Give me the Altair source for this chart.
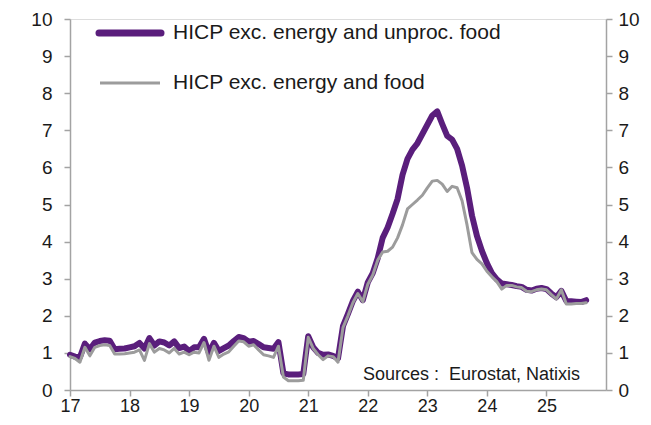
import altair as alt
import pandas as pd

years = [2017, 2018, 2019, 2020, 2021, 2022, 2023, 2024, 2025]

# HICP excluding energy and unprocessed food (% y/y), monthly
hicp_ex_energy_unproc = {
    2017: [0.95, 0.90, 0.88, 1.25, 1.10, 1.28, 1.32, 1.34, 1.33, 1.10, 1.11, 1.12],
    2018: [1.15, 1.18, 1.27, 1.12, 1.40, 1.20, 1.31, 1.28, 1.20, 1.31, 1.13, 1.17],
    2019: [1.05, 1.15, 1.15, 1.38, 1.00, 1.27, 1.05, 1.13, 1.20, 1.32, 1.43, 1.40],
    2020: [1.30, 1.32, 1.24, 1.15, 1.13, 1.11, 1.29, 0.45, 0.42, 0.42, 0.42, 0.43],
    2021: [1.45, 1.15, 1.00, 0.95, 0.96, 0.92, 0.85, 1.72, 2.05, 2.40, 2.65, 2.42],
    2022: [2.90, 3.15, 3.55, 4.10, 4.38, 4.75, 5.15, 5.80, 6.23, 6.48, 6.65, 6.90],
    2023: [7.15, 7.40, 7.51, 7.17, 6.85, 6.75, 6.50, 6.05, 5.45, 4.70, 4.15, 3.75],
    2024: [3.42, 3.15, 2.98, 2.87, 2.85, 2.83, 2.80, 2.78, 2.70, 2.68, 2.73, 2.75],
    2025: [2.72, 2.60, 2.50, 2.67, 2.40, 2.39, 2.38, 2.37, 2.42],
}

# HICP excluding energy and food (% y/y), monthly
hicp_ex_energy_food = {
    2017: [0.90, 0.85, 0.75, 1.15, 0.92, 1.15, 1.20, 1.22, 1.20, 0.97, 0.97, 0.98],
    2018: [1.00, 1.02, 1.08, 0.80, 1.25, 1.02, 1.12, 1.08, 1.00, 1.12, 0.97, 1.02],
    2019: [0.95, 1.02, 1.00, 1.28, 0.80, 1.18, 0.88, 0.97, 1.03, 1.18, 1.32, 1.30],
    2020: [1.18, 1.22, 1.08, 0.95, 0.92, 0.88, 1.18, 0.35, 0.25, 0.25, 0.25, 0.26],
    2021: [1.42, 1.12, 0.95, 0.82, 0.92, 0.90, 0.75, 1.68, 2.00, 2.35, 2.60, 2.38],
    2022: [2.85, 3.10, 3.50, 3.72, 3.74, 3.85, 4.10, 4.45, 4.88, 5.00, 5.12, 5.25],
    2023: [5.45, 5.63, 5.65, 5.55, 5.35, 5.49, 5.45, 5.10, 4.45, 3.70, 3.52, 3.40],
    2024: [3.20, 3.05, 2.92, 2.72, 2.82, 2.82, 2.78, 2.76, 2.66, 2.65, 2.70, 2.72],
    2025: [2.70, 2.57, 2.45, 2.70, 2.32, 2.32, 2.33, 2.33, 2.35],
}

name_a = "HICP exc. energy and unproc. food"
name_b = "HICP exc. energy and food"
source_note = "Sources :\u00a0 Eurostat, Natixis"
x_ticks = [17, 18, 19, 20, 21, 22, 23, 24, 25]
y_ticks = [0, 1, 2, 3, 4, 5, 6, 7, 8, 9, 10]

rows = []
for yr in years:
    for m, v in enumerate(hicp_ex_energy_unproc[yr]):
        rows.append({"t": (yr - 2000) + m / 12, "value": v, "series": name_a})
    for m, v in enumerate(hicp_ex_energy_food[yr]):
        rows.append({"t": (yr - 2000) + m / 12, "value": v, "series": name_b})
df = pd.DataFrame(rows)

FONT = "Liberation Sans"
PURPLE = "#5a1e7c"
GREY = "#9c9c9c"
AXIS_COL = "#a3a3a3"
TXT = "#1a1a1a"

xs = alt.Scale(domain=[17, 26], nice=False, zero=False)
ys = alt.Scale(domain=[0, 10], nice=False)

x_axis = alt.Axis(values=x_ticks, format="d", title=None, tickSize=6, labelPadding=1,
                  labelFlush=False, labelFontSize=18, labelFont=FONT, labelColor=TXT,
                  domainColor=AXIS_COL, tickColor=AXIS_COL, domainWidth=1.5, tickWidth=1.5,
                  grid=False)

left_axis = alt.Axis(values=y_ticks, title=None, orient="left", tickSize=6, labelPadding=12,
                     labelFlush=False, labelFontSize=19, labelFont=FONT, labelColor=TXT,
                     domainColor=AXIS_COL, tickColor=AXIS_COL, domainWidth=1.5, tickWidth=1.5,
                     grid=False)
right_axis = alt.Axis(values=y_ticks, title=None, orient="right", tickSize=6, labelPadding=6,
                      labelFlush=False, labelFontSize=19, labelFont=FONT, labelColor=TXT,
                      domainColor=AXIS_COL, tickColor=AXIS_COL, domainWidth=1.5, tickWidth=1.5,
                      grid=False)

line_a = alt.Chart(df).transform_filter(alt.datum.series == name_a).mark_line(
    color=PURPLE, strokeWidth=6, strokeJoin="round", strokeCap="round"
).encode(
    x=alt.X("t:Q", scale=xs, axis=x_axis),
    y=alt.Y("value:Q", scale=ys, axis=left_axis),
)

line_b = alt.Chart(df).transform_filter(alt.datum.series == name_b).mark_line(
    color=GREY, strokeWidth=3, strokeJoin="round", strokeCap="round"
).encode(
    x=alt.X("t:Q", scale=xs, axis=x_axis),
    y=alt.Y("value:Q", scale=ys, axis=right_axis),
)

one = pd.DataFrame({"k": [0]})

leg_a = alt.Chart(one).mark_rule(color=PURPLE, strokeWidth=7, strokeCap="round").encode(
    x=alt.value(29), x2=alt.value(91), y=alt.value(14))
leg_b = alt.Chart(one).mark_rule(color=GREY, strokeWidth=3).encode(
    x=alt.value(30), x2=alt.value(90), y=alt.value(64))
txt_a = alt.Chart(one).mark_text(align="left", baseline="middle", font=FONT, fontSize=21,
                                 color=TXT).encode(x=alt.value(103), y=alt.value(14),
                                                   text=alt.value(name_a))
txt_b = alt.Chart(one).mark_text(align="left", baseline="middle", font=FONT, fontSize=21,
                                 color=TXT).encode(x=alt.value(103), y=alt.value(64),
                                                   text=alt.value(name_b))
src = alt.Chart(one).mark_text(align="right", baseline="middle", font=FONT, fontSize=18,
                               color=TXT).encode(x=alt.value(510), y=alt.value(356),
                                                 text=alt.value(source_note))

chart = alt.layer(line_a, line_b, leg_a, leg_b, txt_a, txt_b, src).resolve_axis(
    y="independent"
).properties(
    width=536, height=371,
    autosize=alt.AutoSizeParams(type="none"),
    padding={"left": 62, "top": 11, "right": 37, "bottom": 27},
).configure_view(stroke=None).configure(background="white")

chart.save("out.html", embed_options={"renderer": "svg", "actions": False})
